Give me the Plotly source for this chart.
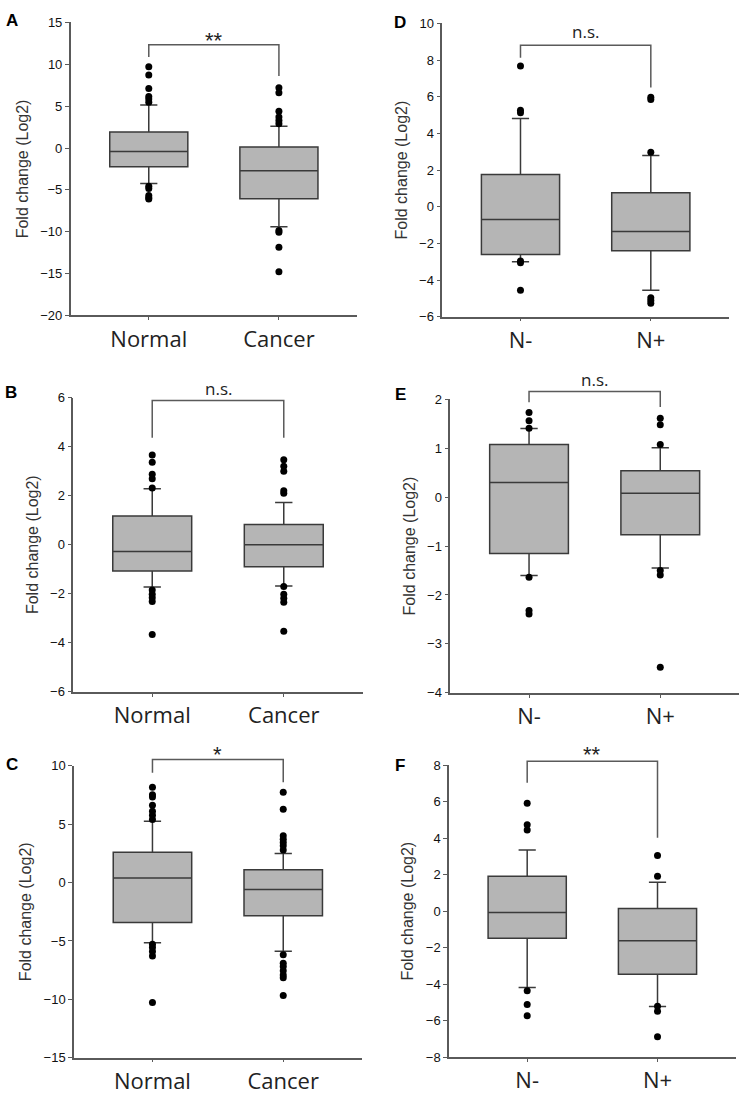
import plotly.graph_objects as go

# ---------------- data ----------------
panel_letters = ["A", "D", "B", "E", "C", "F"]
cat_normal = ["Normal", "Cancer"]
cat_node = ["N-", "N+"]
panel_cats = [cat_normal, cat_node, cat_normal, cat_node, cat_normal, cat_node]

y_ranges = [[-20, 15], [-6, 10], [-6, 6], [-4, 2], [-15, 10], [-8, 8]]
y_dticks = [5, 2, 2, 1, 5, 2]

# box statistics per panel: [group0, group1]
q1 = [[-2.25, -6.05], [-2.6, -2.4], [-1.07, -0.9], [-1.15, -0.77], [-3.41, -2.84], [-1.48, -3.46]]
median = [[-0.4, -2.71], [-0.7, -1.35], [-0.28, 0.0], [0.30, 0.08], [0.39, -0.59], [-0.07, -1.62]]
q3 = [[1.92, 0.12], [1.76, 0.77], [1.17, 0.82], [1.075, 0.54], [2.59, 1.10], [1.91, 0.14]]
lowerfence = [[-4.24, -9.39], [-3.0, -4.56], [-1.73, -1.68], [-1.60, -1.45], [-5.15, -5.88], [-4.18, -5.23]]
upperfence = [[5.15, 2.6], [4.81, 2.80], [2.28, 1.72], [1.40, 1.01], [5.26, 2.5], [3.35, 1.59]]

# outliers per panel: [group0 list, group1 list]
outliers = [
    [[9.7, 8.72, 7.1, 6.17, 5.85, 5.46, -4.56, -4.83, -5.66, -5.93, -6.1],
     [7.2, 6.6, 4.4, 3.7, 3.3, 2.9, -9.86, -10.05, -11.86, -14.77]],
    [[7.68, 5.26, 5.13, -2.96, -3.05, -4.56],
     [5.97, 5.85, 2.98, -4.97, -5.11, -5.27]],
    [[3.66, 3.36, 2.87, 2.69, 2.31, -1.85, -2.02, -2.16, -2.32, -3.66],
     [3.46, 3.2, 3.0, 2.2, 2.1, -1.7, -2.02, -2.18, -2.35, -3.53]],
    [[1.73, 1.56, 1.41, -1.64, -2.32, -2.39],
     [1.61, 1.48, 1.075, -1.50, -1.59, -3.48]],
    [[8.16, 7.52, 7.32, 6.62, 6.11, 5.77, 5.4, -5.29, -5.57, -5.91, -6.28, -10.28],
     [7.74, 6.28, 4.0, 3.72, 3.43, 3.15, 2.79, -6.17, -6.90, -7.18, -7.54, -7.91, -8.16, -9.66]],
    [[5.91, 4.74, 4.45, -4.36, -5.12, -5.73],
     [3.05, 1.91, -5.21, -5.48, -6.88]],
]

# significance brackets: top, left foot, right foot, label, label y
br_top = [12.33, 8.81, 5.88, 2.16, 10.53, 8.22]
br_left = [10.88, 8.13, 4.36, 1.94, 9.40, 7.04]
br_right = [8.6, 6.51, 4.36, 1.84, 8.59, 4.02]
sig_label = ["**", "n.s.", "n.s.", "n.s.", "*", "**"]
sig_y = [13.5, 9.56, 6.39, 2.40, 11.4, 8.85]

# ---------------- layout geometry (pixels in the 747x1098 window) ----------------
W, H = 747, 1098
px_x = [(70.7, 357), (442.3, 729), (73.3, 362.7), (450.3, 739), (74, 361.7), (449, 735.7)]
px_y = [(15.7, 312.7), (16.7, 314), (396, 694.3), (397.7, 695.3), (769.3, 1065.3), (768.7, 1064.7)]
letter_pos = [(12, 14), (400, 16), (11, 391), (400, 393), (12, 768), (400, 769)]
XR = [-0.6, 1.6]

BOX_FILL = "#b5b5b5"
LINE = "#3a3a3a"
AXC = "#5a5a5a"


def pxx(v):
    return v / W


def pxy(v):
    return 1 - v / H


fig = go.Figure()
shapes = []
annotations = []
layout = {}

for i in range(6):
    n = i + 1
    xa = "x" if n == 1 else f"x{n}"
    ya = "y" if n == 1 else f"y{n}"
    for g in range(2):
        fig.add_trace(go.Box(
            x=[g], q1=[q1[i][g]], median=[median[i][g]], q3=[q3[i][g]],
            lowerfence=[lowerfence[i][g]], upperfence=[upperfence[i][g]],
            orientation="v", width=0.6, whiskerwidth=0.22,
            fillcolor=BOX_FILL, line=dict(color=LINE, width=1.5),
            boxpoints=False, xaxis=xa, yaxis=ya, showlegend=False,
            hoverinfo="skip",
        ))
        pts = outliers[i][g]
        fig.add_trace(go.Scatter(
            x=[g] * len(pts), y=pts, mode="markers",
            marker=dict(color="black", size=7),
            xaxis=xa, yaxis=ya, showlegend=False, cliponaxis=False,
            hoverinfo="skip",
        ))

    x0, x1 = px_x[i]
    yt, yb = px_y[i]
    dom_x = [pxx(x0), pxx(x1)]
    dom_y = [pxy(yb), pxy(yt)]
    axkey = "xaxis" if n == 1 else f"xaxis{n}"
    aykey = "yaxis" if n == 1 else f"yaxis{n}"
    layout[axkey] = dict(
        domain=dom_x, range=XR, anchor=ya, tickmode="array", tickvals=[0, 1],
        ticktext=panel_cats[i], showgrid=False, zeroline=False,
        showline=True, linecolor=AXC, linewidth=1.5, ticks="outside",
        ticklen=3, tickcolor=AXC, tickwidth=1.2,
        tickfont=dict(family="Open Sans, Noto Sans, sans-serif", size=22, color="#222"),
        fixedrange=True,
    )
    yr = y_ranges[i]
    layout[aykey] = dict(
        domain=dom_y, range=yr, anchor=xa, dtick=y_dticks[i], tick0=0,
        showgrid=False, zeroline=False, showline=True, linecolor=AXC,
        linewidth=1.5, ticks="outside", ticklen=4, tickcolor=AXC, tickwidth=1.2,
        tickfont=dict(family="Liberation Sans, Arial, sans-serif", size=13, color="#111"),
        title=dict(text="Fold change (Log2)", standoff=8,
                   font=dict(family="Liberation Sans, Arial, sans-serif", size=16, color="#333")),
        fixedrange=True,
    )

    # bracket and label via domain-referenced coordinates (not clipped / hidden)
    def fx(v):
        return (v - XR[0]) / (XR[1] - XR[0])

    def fy(v, r=yr):
        return (v - r[0]) / (r[1] - r[0])

    xd = "x domain" if n == 1 else f"x{n} domain"
    yd = "y domain" if n == 1 else f"y{n} domain"
    path = (f"M {fx(0)},{fy(br_left[i])} L {fx(0)},{fy(br_top[i])} "
            f"L {fx(1)},{fy(br_top[i])} L {fx(1)},{fy(br_right[i])}")
    shapes.append(dict(type="path", xref=xd, yref=yd, path=path,
                       line=dict(color=AXC, width=1.5)))

    lab = sig_label[i]
    star = "*" in lab
    annotations.append(dict(
        x=fx(0.5), y=fy(sig_y[i]), xref=xd, yref=yd, text=lab, showarrow=False,
        xanchor="center", yanchor="middle", yshift=(-5 if star else 0),
        font=dict(family=("Liberation Sans, Arial, sans-serif" if star else "Open Sans, Noto Sans, sans-serif"),
                  size=(22 if star else 17), color="#222"),
    ))
    lx, ly = letter_pos[i]
    annotations.append(dict(
        x=pxx(lx), y=pxy(ly), xref="paper", yref="paper", text=f"<b>{panel_letters[i]}</b>",
        showarrow=False, xanchor="center", yanchor="middle",
        font=dict(family="Liberation Sans, Arial, sans-serif", size=17, color="black"),
    ))

fig.update_layout(
    width=W, height=H, margin=dict(l=0, r=0, t=0, b=0),
    paper_bgcolor="white", plot_bgcolor="white",
    shapes=shapes, annotations=annotations, showlegend=False,
    **layout,
)

fig.write_html(
    "out.html",
    config={"displayModeBar": False},
    post_script="document.body.style.margin='0';document.body.style.overflow='hidden';",
)
